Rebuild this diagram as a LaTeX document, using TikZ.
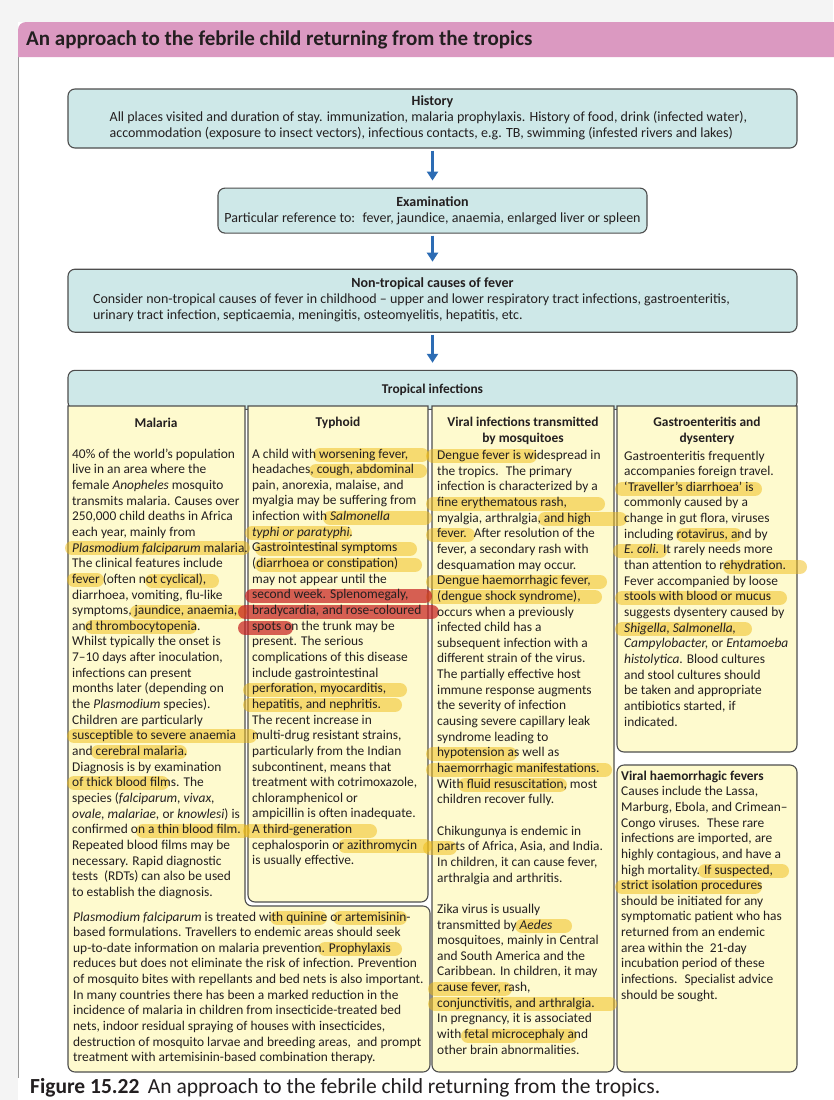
\documentclass[tikz,border=0pt]{standalone}
\usepackage{fontspec}
\setmainfont{Carlito}
\usepackage{xcolor}
\usetikzlibrary{positioning,arrows.meta}

\definecolor{tealfill}{RGB}{206,232,232}
\definecolor{boxline}{RGB}{78,78,78}
\definecolor{colfill}{RGB}{254,250,206}
\definecolor{arrowblue}{RGB}{44,108,180}
\definecolor{titlepink}{RGB}{219,153,193}
\definecolor{inkgrey}{RGB}{35,31,32}
\definecolor{hlyellow}{RGB}{240,188,20}
\definecolor{hlred}{RGB}{198,30,30}
\definecolor{margingrey}{RGB}{244,244,244}

\newcommand{\boxfont}{\fontsize{14}{16}\selectfont}
\newcommand{\colfont}{\fontsize{13.4}{15.65}\selectfont}

\tikzset{
  flowbox/.style={draw=boxline, fill=tealfill, line width=1.1pt, rounded corners=7pt,
    align=center, inner sep=4pt, font=\boxfont, text=inkgrey},
  colbox/.style={draw=boxline, fill=colfill, line width=1.1pt},
  colhead/.style={align=center, inner sep=0pt, font=\colfont\bfseries, text=inkgrey},
  coltext/.style={align=left, anchor=north west, inner sep=0pt, font=\colfont, text=inkgrey},
  flowarrow/.style={draw=arrowblue, line width=2.8pt, -{Triangle[width=11pt,length=9pt]},
    shorten <=2pt, shorten >=7pt},
  hl/.style={draw=hlyellow, line width=14pt, line cap=round, opacity=.5},
  hlr/.style={hl, draw=hlred, opacity=.7}
}

\begin{document}
\begin{tikzpicture}[x=1pt, y=-1pt]
\useasboundingbox (0,0) rectangle (833,1100);

% page and title bar
\fill[margingrey] (0,0) rectangle (833,1100);
\fill[white] (18,22) rectangle (833,1100);
\draw[boxline!60, line width=0.8pt] (18,57) -- (18,1078);
\fill[titlepink] (18,57) [rounded corners=8pt] -- (18,22) -- (845,22) [sharp corners] -- (845,57) -- cycle;
\node[anchor=west, inner sep=0pt, font=\fontsize{21}{24}\selectfont\bfseries, text=inkgrey] (title) at (26,40)
  {An approach to the febrile child returning from the tropics};

% flow boxes
\node[flowbox, minimum width=729pt, minimum height=59pt] (history) at (432.5,118.5)
  {\textbf{History}\\
   \begin{tabular}[t]{@{}l@{}}All places visited and duration of stay. immunization, malaria prophylaxis. History of food, drink (infected water),\\
   accommodation (exposure to insect vectors), infectious contacts, e.g. TB, swimming (infested rivers and lakes)\end{tabular}\hspace*{8pt}};
\node[flowbox, below=39pt of history, minimum width=429pt, minimum height=45pt] (exam)
  {\textbf{Examination}\\ Particular reference to:~ fever, jaundice, anaemia, enlarged liver or spleen};
\node[flowbox, below=35pt of exam, minimum width=729pt, minimum height=63pt] (nontrop)
  {\textbf{Non-tropical causes of fever}\\
   \begin{tabular}[t]{@{}l@{}}Consider non-tropical causes of fever in childhood -- upper and lower respiratory tract infections, gastroenteritis,\\
   urinary tract infection, septicaemia, meningitis, osteomyelitis, hepatitis, etc.\end{tabular}\hspace*{42pt}};
\node[flowbox, below=37pt of nontrop, minimum width=729pt, minimum height=39pt, font=\colfont\bfseries] (tropical)
  {Tropical infections};

% arrows
\draw[flowarrow] (history) -- (exam);
\draw[flowarrow] (exam) -- (nontrop);
\draw[flowarrow] (nontrop) -- (tropical);

% columns
\draw[colbox] (68,406) [rounded corners=7pt] -- (68,1072) -- (430,1072) -- (430,906) -- (245,906) [sharp corners] -- (245,406) -- cycle;
\draw[colbox] (248,406) [rounded corners=7pt] -- (248,902) -- (428,902) [sharp corners] -- (428,406) -- cycle;
\draw[colbox] (432,406) [rounded corners=7pt] -- (432,1072) -- (614,1072) [sharp corners] -- (614,406) -- cycle;
\draw[colbox] (617,406) [rounded corners=7pt] -- (617,752) -- (797,752) [sharp corners] -- (797,406) -- cycle;
\draw[colbox, rounded corners=7pt] (617,765) rectangle (797,1072);

% highlighter marks
\foreach \xa/\xb/\yy in {72/243/548, 74/97/580, 152/212/581, 137/240/612, 92/190/627, 74/250/736,
  98/180/752, 74/162/783, 143/243/831, 277/320/918, 340/400/918, 325/395/949,
  320/422/455, 316/420/471, 330/425/518, 252/345/533, 262/410/549, 262/415/565,
  250/400/690, 250/395/705, 250/370/831, 345/425/846,
  433/530/456, 433/598/504, 545/620/519, 433/468/535, 433/600/582, 433/595/597,
  433/510/754, 433/605/770, 465/560/785, 430/450/848, 522/565/926, 435/505/989,
  435/610/1004, 468/570/1036,
  622/755/489, 683/735/535, 620/660/551, 730/800/567, 622/780/598, 622/745/629,
  705/782/871, 622/755/887}
  \draw[hl] (\xa,\yy) -- (\xb,\yy);
\foreach \xa/\xb/\yy in {252/425/596, 245/432/612, 245/286/628}
  \draw[hlr] (\xa,\yy) -- (\xb,\yy);

% column headings
\node[colhead] (malariahd) at (156,423) {Malaria};
\node[colhead] (typhoidhd) at (338,423) {Typhoid};
\node[colhead] (viralhd) at (523,431) {Viral infections transmitted\\ by mosquitoes};
\node[colhead] (gastrohd) at (707,431) {Gastroenteritis and\\ dysentery};

% column texts
\node[coltext] (malariatxt) at (72,448.5)
  {40\% of the world's population\\
   live in an area where the\\
   female \textit{Anopheles} mosquito\\
   transmits malaria. Causes over\\
   250,000 child deaths in Africa\\
   each year, mainly from\\
   \textit{Plasmodium falciparum} malaria.\\
   The clinical features include\\
   fever (often not cyclical),\\
   diarrhoea, vomiting, flu-like\\
   symptoms, jaundice, anaemia,\\
   and thrombocytopenia.\\
   Whilst typically the onset is\\
   7--10 days after inoculation,\\
   infections can present\\
   months later (depending on\\
   the \textit{Plasmodium} species).\\
   Children are particularly\\
   susceptible to severe anaemia\\
   and cerebral malaria.\\
   Diagnosis is by examination\\
   of thick blood films. The\\
   species (\textit{falciparum, vivax,}\\
   \textit{ovale, malariae,} or \textit{knowlesi}) is\\
   confirmed on a thin blood film.\\
   Repeated blood films may be\\
   necessary. Rapid diagnostic\\
   tests~ (RDTs) can also be used\\
   to establish the diagnosis.};
\node[coltext] (malariabot) at (73,911.5)
  {\textit{Plasmodium falciparum} is treated with quinine or artemisinin-\\
   based formulations. Travellers to endemic areas should seek\\
   up-to-date information on malaria prevention. Prophylaxis\\
   reduces but does not eliminate the risk of infection. Prevention\\
   of mosquito bites with repellants and bed nets is also important.\\
   In many countries there has been a marked reduction in the\\
   incidence of malaria in children from insecticide-treated bed\\
   nets, indoor residual spraying of houses with insecticides,\\
   destruction of mosquito larvae and breeding areas,~ and prompt\\
   treatment with artemisinin-based combination therapy.};
\node[coltext] (typhoidtxt) at (252,448.5)
  {A child with worsening fever,\\
   headaches, cough, abdominal\\
   pain, anorexia, malaise, and\\
   myalgia may be suffering from\\
   infection with \textit{Salmonella}\\
   \textit{typhi or paratyphi.}\\
   Gastrointestinal symptoms\\
   (diarrhoea or constipation)\\
   may not appear until the\\
   second week. Splenomegaly,\\
   bradycardia, and rose-coloured\\
   spots on the trunk may be\\
   present. The serious\\
   complications of this disease\\
   include gastrointestinal\\
   perforation, myocarditis,\\
   hepatitis, and nephritis.\\
   The recent increase in\\
   multi-drug resistant strains,\\
   particularly from the Indian\\
   subcontinent, means that\\
   treatment with cotrimoxazole,\\
   chloramphenicol or\\
   ampicillin is often inadequate.\\
   A third-generation\\
   cephalosporin or azithromycin\\
   is usually effective.};
\node[coltext] (viraltxt) at (437,450)
  {Dengue fever is widespread in\\
   the tropics.~ The primary\\
   infection is characterized by a\\
   fine erythematous rash,\\
   myalgia, arthralgia, and high\\
   fever.~ After resolution of the\\
   fever, a secondary rash with\\
   desquamation may occur.\\
   Dengue haemorrhagic fever,\\
   (dengue shock syndrome),\\
   occurs when a previously\\
   infected child has a\\
   subsequent infection with a\\
   different strain of the virus.\\
   The partially effective host\\
   immune response augments\\
   the severity of infection\\
   causing severe capillary leak\\
   syndrome leading to\\
   hypotension as well as\\
   haemorrhagic manifestations.\\
   With fluid resuscitation, most\\
   children recover fully.\\[15.65pt]
   Chikungunya is endemic in\\
   parts of Africa, Asia, and India.\\
   In children, it can cause fever,\\
   arthralgia and arthritis.\\[15.65pt]
   Zika virus is usually\\
   transmitted by \textit{Aedes}\\
   mosquitoes, mainly in Central\\
   and South America and the\\
   Caribbean. In children, it may\\
   cause fever, rash,\\
   conjunctivitis, and arthralgia.\\
   In pregnancy, it is associated\\
   with fetal microcephaly and\\
   other brain abnormalities.};
\node[coltext] (gastrotxt) at (624,450.5)
  {Gastroenteritis frequently\\
   accompanies foreign travel.\\
   `Traveller's diarrhoea' is\\
   commonly caused by a\\
   change in gut flora, viruses\\
   including rotavirus, and by\\
   \textit{E. coli}. It rarely needs more\\
   than attention to rehydration.\\
   Fever accompanied by loose\\
   stools with blood or mucus\\
   suggests dysentery caused by\\
   \textit{Shigella, Salmonella,}\\
   \textit{Campylobacter,} or \textit{Entamoeba}\\
   \textit{histolytica}. Blood cultures\\
   and stool cultures should\\
   be taken and appropriate\\
   antibiotics started, if\\
   indicated.};
\node[coltext] (vhftxt) at (621,770.5)
  {\textbf{Viral haemorrhagic fevers}\\
   Causes include the Lassa,\\
   Marburg, Ebola, and Crimean--\\
   Congo viruses.~ These rare\\
   infections are imported, are\\
   highly contagious, and have a\\
   high mortality. If suspected,\\
   strict isolation procedures\\
   should be initiated for any\\
   symptomatic patient who has\\
   returned from an endemic\\
   area within the~ 21-day\\
   incubation period of these\\
   infections.~ Specialist advice\\
   should be sought.};

% caption
\node[anchor=base west, inner sep=0pt, font=\fontsize{21.5}{24}\selectfont, text=inkgrey] (caption) at (30,1093.5)
  {\textbf{Figure 15.22}\, An approach to the febrile child returning from the tropics.};
\end{tikzpicture}
\end{document}
